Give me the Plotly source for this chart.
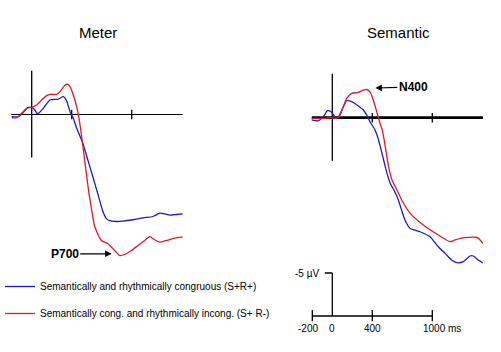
import plotly.graph_objects as go

W, H = 501, 352

# ---------------- data (time in ms, amplitude in µV, negative plotted up) -------------
meter_blue_t = [-200, -134, -84, -40, 0, 33, 50, 66, 116, 183, 266, 316, 350, 383, 416, 450,
                513, 563, 613, 663, 713, 747, 780, 847, 913, 1013, 1113, 1213, 1280, 1330, 1380, 1447, 1510]
meter_blue_v = [0.26, 0.26, -0.26, -0.79, -0.84, -0.52, -0.14, -0.14, -0.72, -1.69, -1.80, -2.07, -1.57, -0.33, 0.44, 1.6,
                3.41, 5.35, 7.3, 9.3, 11.3, 12.1, 12.35, 12.44, 12.4, 12.24, 12.01, 11.86, 11.48, 11.55, 11.71, 11.63, 11.55]

meter_red_t = [-200, -150, -100, -50, 0, 50, 100, 150, 183, 250, 283, 333, 360, 383, 416, 450, 473, 500,
               547, 573, 597, 630, 697, 763, 830, 880, 930, 997, 1063, 1130, 1180, 1230, 1280, 1347, 1430, 1510]
meter_red_v = [0.37, 0.37, -0.14, -0.72, -0.84, -1.1, -1.69, -2.19, -2.35, -2.35, -2.65, -3.43, -3.51, -3.23, -2.27, -0.91, 0.44, 2.6,
               6.9, 9.2, 10.9, 13.0, 14.65, 15.03, 15.81, 16.4, 16.28, 15.81, 15.23, 14.65, 14.19, 14.57, 14.85, 14.65, 14.38, 14.27]

sem_blue_t = [-206, -140, -90, -46, -13, 20, 44, 77, 110, 144, 194, 260, 310, 344, 377, 427, 447, 480, 513, 547, 580,
              620, 660, 727, 777, 877, 977, 1060, 1127, 1194, 1244, 1310, 1377, 1410, 1460, 1505]
sem_blue_v = [0.26, 0.35, -0.12, -0.81, -0.70, -0.20, 0.07, -0.43, -1.27, -1.97, -1.86, -1.36, -0.90, -0.31, 0.47, 1.43, 2.02, 3.37, 4.92, 6.47, 7.64,
              8.5, 9.57, 11.9, 12.86, 13.26, 13.84, 15.0, 15.77, 16.55, 16.86, 16.74, 16.08, 16.08, 16.55, 16.9]

sem_red_t = [-206, -73, -6, 44, 77, 110, 144, 194, 260, 310, 344, 377, 410, 444, 477, 500, 530, 563, 597, 647,
             694, 777, 910, 1060, 1177, 1227, 1294, 1427, 1460, 1505]
sem_red_v = [0.07, 0.07, 0.0, 0.07, -0.31, -1.27, -2.24, -2.83, -2.94, -3.2, -3.28, -3.0, -2.05, -0.7, 0.64, 1.43, 3.37, 5.7, 7.25, 8.41,
             9.57, 11.1, 12.48, 13.64, 14.42, 14.22, 14.0, 13.9, 14.0, 14.6]

legend_labels = ["Semantically and rhythmically congruous (S+R+)",
                 "Semantically cong. and rhythmically incong. (S+ R-)"]
panel_titles = ["Meter", "Semantic"]
axis_ticks_ms = [400, 1000]
scale_ticks_ms = [-200, 0, 400, 1000]
scale_tick_labels = ["-200", "0", "400", "1000 ms"]
scale_amp = -5

BLUE = "#1a1acc"
RED = "#e01a22"
FONT = "Liberation Sans, Arial, sans-serif"

# ---------------- geometry helpers (pixel -> paper) ----------------
def xdom(t0, t1, px0, scale=0.1):
    return [(px0 + scale * t0) / W, (px0 + scale * t1) / W]

def ydom(v_top, v_bot, base, scale=8.6):
    top = base + scale * v_top
    bot = base + scale * v_bot
    return [1 - bot / H, 1 - top / H]

XR = [-220, 1520]
XR3 = [-400, 1520]
YR1 = [-6.5, 18.5]

fig = go.Figure()

def add_curve(t, v, color, xa, ya, name, show):
    fig.add_trace(go.Scatter(x=t, y=v, mode="lines", xaxis=xa, yaxis=ya,
                             line=dict(color=color, width=1.3, shape="spline", smoothing=0.6),
                             name=name, showlegend=show, legendgroup=name, hoverinfo="skip"))

add_curve(meter_blue_t, meter_blue_v, BLUE, "x", "y", legend_labels[0], True)
add_curve(meter_red_t, meter_red_v, RED, "x", "y", legend_labels[1], True)
add_curve(sem_blue_t, sem_blue_v, BLUE, "x2", "y2", legend_labels[0], False)
add_curve(sem_red_t, sem_red_v, RED, "x2", "y2", legend_labels[1], False)
fig.add_trace(go.Scatter(x=[None], y=[None], xaxis="x3", yaxis="y3", showlegend=False))

hidden = dict(visible=False, showgrid=False, zeroline=False, fixedrange=True)
fig.update_layout(
    xaxis=dict(domain=xdom(*XR, 31.7), range=XR, anchor="y", **hidden),
    yaxis=dict(domain=ydom(YR1[0], YR1[1], 114.5), range=[YR1[1], YR1[0]], anchor="x", **hidden),
    xaxis2=dict(domain=xdom(*XR, 332.3), range=XR, anchor="y2", **hidden),
    yaxis2=dict(domain=ydom(YR1[0], YR1[1], 117.7), range=[YR1[1], YR1[0]], anchor="x2", **hidden),
    xaxis3=dict(domain=xdom(*XR3, 332.3), range=XR3, anchor="y3", **hidden),
    yaxis3=dict(domain=ydom(-7, 2.5, 316), range=[2.5, -7], anchor="x3", **hidden),
)

shapes = []
def seg(x0, y0, x1, y1, xr, yr, w=1.3):
    shapes.append(dict(type="line", x0=x0, y0=y0, x1=x1, y1=y1, xref=xr, yref=yr,
                       line=dict(color="black", width=w), layer="below"))

# panel axes
for xr, yr, bw, t_end in [("x", "y", 1.2, 1510), ("x2", "y2", 2.8, 1507)]:
    seg(-205, 0, t_end, 0, xr, yr, bw)
    seg(0, -5.1, 0, 5.0, xr, yr, 1.3)
    for tk in axis_ticks_ms:
        seg(tk, -0.55, tk, 0.55, xr, yr, 1.3)

# scale bar
seg(scale_ticks_ms[0], 0, scale_ticks_ms[-1], 0, "x3", "y3", 1.3)
seg(0, scale_amp, 0, 0, "x3", "y3", 1.3)
seg(-75, scale_amp, 0, scale_amp, "x3", "y3", 1.3)
for tk in scale_ticks_ms:
    if tk != 0:
        seg(tk, -0.7, tk, 0.6, "x3", "y3", 1.3)

annotations = []
# titles
for title, cx in zip(panel_titles, [98, 398]):
    annotations.append(dict(text=title, x=cx / W, y=1 - 32 / H, xref="paper", yref="paper",
                            showarrow=False, font=dict(family=FONT, size=15, color="black"),
                            xanchor="center", yanchor="middle"))
# scale-bar labels
annotations.append(dict(text="-5 µV", x=-113, y=scale_amp, xref="x3", yref="y3", showarrow=False,
                        xanchor="right", yanchor="middle", font=dict(family=FONT, size=10, color="black")))
lab_pos = [(-245, "center"), (0, "center"), (397, "center"), (887, "left")]
for (lx, anc), lab in zip(lab_pos, scale_tick_labels):
    annotations.append(dict(text=lab, x=lx, y=1.45, xref="x3", yref="y3", showarrow=False,
                            xanchor=anc, yanchor="middle", font=dict(family=FONT, size=10, color="black")))
# component labels
annotations.append(dict(text="<b>P700</b>", x=800, y=16.2, xref="x", yref="y", showarrow=True,
                        ax=-47, ay=0, arrowhead=2, arrowsize=1.1, arrowwidth=1.2, arrowcolor="black",
                        font=dict(family=FONT, size=12, color="black")))
annotations.append(dict(text="<b>N400</b>", x=430, y=-3.45, xref="x2", yref="y2", showarrow=True,
                        ax=38, ay=-1, arrowhead=2, arrowsize=1.1, arrowwidth=1.2, arrowcolor="black",
                        font=dict(family=FONT, size=12, color="black")))

fig.update_layout(
    width=W, height=H, margin=dict(l=0, r=0, t=0, b=0),
    paper_bgcolor="white", plot_bgcolor="rgba(0,0,0,0)",
    shapes=shapes, annotations=annotations,
    showlegend=True,
    legend=dict(x=0.0, y=1 - 272 / H, xanchor="left", yanchor="top",
                font=dict(family=FONT, size=10, color="black"),
                itemwidth=30, tracegroupgap=8, traceorder="grouped",
                bgcolor="rgba(0,0,0,0)", borderwidth=0, itemclick=False, itemdoubleclick=False),
)

fig.write_html("out.html")
